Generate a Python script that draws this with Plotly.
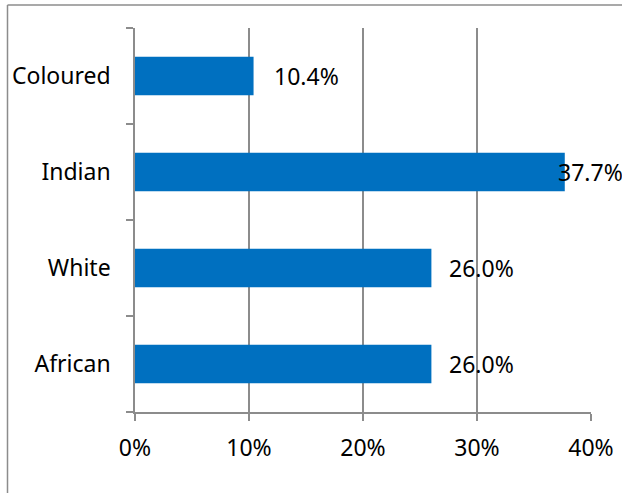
import plotly.graph_objects as go

# Share of respondents by population group
categories = ["African", "White", "Indian", "Coloured"]
values = [26.0, 26.0, 37.7, 10.4]
x_ticks = [0, 10, 20, 30, 40]
x_tick_labels = ["0%", "10%", "20%", "30%", "40%"]

BAR_COLOR = "#0070C0"
LINE_COLOR = "#8C8C8C"
FONT = "Noto Sans"
FONT_SIZE = 23

W, H = 622, 493
ML, MR, MT, MB = 135, 31, 28, 81
PW, PH = W - ML - MR, H - MT - MB

fig = go.Figure(
    go.Bar(
        x=values,
        y=categories,
        orientation="h",
        marker=dict(color=BAR_COLOR, line=dict(width=0)),
        hoverinfo="skip",
    )
)

# Value labels past the end of each bar; the widest one is pulled back over its bar
label_shift = {0: 16, 1: 16, 2: -9, 3: 18}
for i, (cat, v) in enumerate(zip(categories, values)):
    fig.add_annotation(
        x=v, y=cat, text=f"{v:.1f}%", showarrow=False,
        xanchor="left", yanchor="middle", xshift=label_shift[i],
        font=dict(family=FONT, size=FONT_SIZE, color="#000000"),
    )

# Outer chart-area frame (top and left edges)
fx0 = (7.5 - ML) / PW
fy1 = 1 + (MT - 5) / PH
fx1 = (W + 5 - ML) / PW
fy0 = -(MB + 5) / PH
fig.add_shape(type="line", xref="paper", yref="paper", x0=fx0, x1=fx0, y0=fy0, y1=fy1,
              line=dict(color=LINE_COLOR, width=1.5), layer="below")
fig.add_shape(type="line", xref="paper", yref="paper", x0=fx0, x1=fx1, y0=fy1, y1=fy1,
              line=dict(color=LINE_COLOR, width=1.5), layer="below")

fig.update_layout(
    width=W, height=H,
    margin=dict(l=ML, r=MR, t=MT, b=MB, autoexpand=False),
    paper_bgcolor="white", plot_bgcolor="white",
    bargap=0.6,
    showlegend=False,
    font=dict(family=FONT, size=FONT_SIZE, color="#000000"),
    xaxis=dict(
        range=[0, 40], tickvals=x_ticks, ticktext=x_tick_labels,
        showgrid=True, gridcolor=LINE_COLOR, gridwidth=1.5,
        showline=True, linecolor=LINE_COLOR, linewidth=1.5,
        ticks="outside", ticklen=7, tickcolor=LINE_COLOR, tickwidth=1.5,
        ticklabelstandoff=8, zeroline=False, fixedrange=True, automargin=False,
    ),
    yaxis=dict(
        categoryorder="array", categoryarray=categories,
        showgrid=False, showline=True, linecolor=LINE_COLOR, linewidth=1.5,
        ticks="outside", tickson="boundaries", ticklen=7,
        tickcolor=LINE_COLOR, tickwidth=1.5,
        ticklabelstandoff=18, zeroline=False, fixedrange=True, automargin=False,
    ),
)

fig.write_html("out.html")
